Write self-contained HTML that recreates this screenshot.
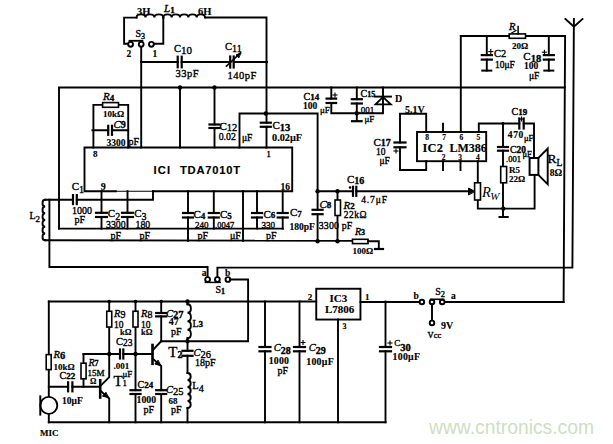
<!DOCTYPE html>
<html><head><meta charset="utf-8"><style>
html,body{margin:0;padding:0;background:#fff;width:613px;height:444px;overflow:hidden}
svg{display:block}

</style></head><body>
<svg width="613" height="444" viewBox="0 0 613 444" stroke="#000" fill="none" stroke-linecap="square"><path d="M129.0,43.8 L124.1,43.8 L124.1,17.6 L136.5,17.6" stroke-width="1.9"/>
<path d="M136.5,17.6 C136.5,13.344000000000001 145.43333333333334,13.344000000000001 145.43333333333334,17.6 C145.43333333333334,13.344000000000001 154.36666666666667,13.344000000000001 154.36666666666667,17.6 C154.36666666666667,13.344000000000001 163.3,13.344000000000001 163.3,17.6" stroke-width="1.9" fill="none"/>
<path d="M163.3,17.6 C163.3,13.344000000000001 171.64000000000001,13.344000000000001 171.64000000000001,17.6 C171.64000000000001,13.344000000000001 179.98000000000002,13.344000000000001 179.98000000000002,17.6 C179.98000000000002,13.344000000000001 188.32000000000002,13.344000000000001 188.32000000000002,17.6 C188.32,13.344000000000001 196.66,13.344000000000001 196.66,17.6 C196.66,13.344000000000001 205.0,13.344000000000001 205.0,17.6" stroke-width="1.9" fill="none"/>
<path d="M206.0,17.5 L266.5,17.5 L266.5,147.5" stroke-width="1.9"/>
<path d="M163.3,17.6 L163.3,43.8 L153.0,43.8" stroke-width="1.9"/>
<path d="M141.2,46.0 L141.2,147.5" stroke-width="1.9"/>
<circle cx="130.6" cy="44.3" r="2.4" fill="#fff" stroke-width="1.9"/>
<circle cx="141.2" cy="44.3" r="2.4" fill="#fff" stroke-width="1.9"/>
<circle cx="151.4" cy="44.3" r="2.4" fill="#fff" stroke-width="1.9"/>
<path d="M129.5,40.8 L142.4,40.8" stroke-width="1.8"/>
<path d="M141.2,62.0 L266.5,62.0" stroke-width="1.9"/>
<rect x="178.7" y="55.7" width="2.0" height="12.6" fill="#fff" stroke="none"/>
<path d="M177.7,56.7 L177.7,67.3" stroke-width="2.2"/>
<path d="M181.7,56.7 L181.7,67.3" stroke-width="2.2"/>
<rect x="231.2" y="55.5" width="1.5" height="13" fill="#fff" stroke="none"/>
<path d="M230.2,56.5 L230.2,67.5" stroke-width="2.2"/>
<path d="M233.7,56.5 L233.7,67.5" stroke-width="2.2"/>
<path d="M226.5,66.0 L240.5,53.0" stroke-width="1.6"/>
<path d="M240.5,53 L236,55 L238.5,57.5 Z" stroke-width="1" fill="#000"/>
<circle cx="266.5" cy="62" r="1.6" fill="#000" stroke="none"/>
<path d="M59.0,228.6 L59.0,87.5 L564.8,87.5" stroke-width="1.9"/>
<path d="M180.0,87.5 L180.0,147.5" stroke-width="1.9"/>
<circle cx="180" cy="87.5" r="2.2" fill="#000" stroke="none"/>
<path d="M214.5,87.5 L214.5,147.5" stroke-width="1.9"/>
<circle cx="214.5" cy="87.5" r="2.2" fill="#000" stroke="none"/>
<rect x="208.5" y="125.5" width="12" height="1.5" fill="#fff" stroke="none"/>
<path d="M209.5,124.5 L219.5,124.5" stroke-width="2.2"/>
<path d="M209.5,128.0 L219.5,128.0" stroke-width="2.2"/>
<path d="M239.5,147.5 L239.5,113.5 L317.6,113.5 L317.6,241.2" stroke-width="1.9"/>
<circle cx="265.8" cy="113.5" r="2.2" fill="#000" stroke="none"/>
<rect x="259.8" y="123.7" width="12" height="2.0999999999999943" fill="#fff" stroke="none"/>
<path d="M260.8,122.7 L270.8,122.7" stroke-width="2.2"/>
<path d="M260.8,126.8 L270.8,126.8" stroke-width="2.2"/>
<path d="M115.8,191.2 L84.5,191.2 L84.5,147.5 L292.2,147.5 L292.2,191.2 L153.0,191.2" stroke-width="1.9"/>
<path d="M115.8,191.2 L153.0,191.2" stroke-width="1.1"/>
<path d="M93.4,147.5 L93.4,104.9 L128.2,104.9 L128.2,147.5" stroke-width="1.9"/>
<rect x="102.6" y="102.6" width="15.9" height="4.7" fill="#fff" stroke-width="1.6"/>
<path d="M92.4,130.3 L128.2,130.3" stroke-width="1.9"/>
<rect x="109.2" y="124.80000000000001" width="1.7999999999999972" height="11" fill="#fff" stroke="none"/>
<path d="M108.2,125.8 L108.2,134.8" stroke-width="2.2"/>
<path d="M112.0,125.8 L112.0,134.8" stroke-width="2.2"/>
<path d="M45.2,199.8 L153.0,199.8 L153.0,191.2" stroke-width="1.9"/>
<rect x="74" y="194.1" width="1.7999999999999972" height="11" fill="#fff" stroke="none"/>
<path d="M73.0,195.1 L73.0,204.1" stroke-width="2.2"/>
<path d="M76.8,195.1 L76.8,204.1" stroke-width="2.2"/>
<path d="M45.2,199.8 C41.609,199.8 41.609,206.55 45.2,206.55 C41.609,206.55 41.609,213.3 45.2,213.3 C41.609,213.3 41.609,220.05 45.2,220.05 C41.609,220.05 41.609,226.8 45.2,226.8 C41.609,226.8 41.609,233.55 45.2,233.55 C41.609,233.55 41.609,240.3 45.2,240.3" stroke-width="1.9" fill="none"/>
<path d="M45.2,240.3 L352.5,240.8" stroke-width="1.9"/>
<path d="M49.4,199.6 L49.4,267.0 L207.6,267.0 L207.6,277.2" stroke-width="1.9"/>
<path d="M59.0,228.6 L283.0,228.6" stroke-width="1.9"/>
<path d="M101.5,191.2 L101.5,228.6" stroke-width="1.9"/>
<path d="M127.5,191.2 L127.5,228.6" stroke-width="1.9"/>
<path d="M213.8,191.2 L213.8,228.6" stroke-width="1.9"/>
<path d="M257.0,191.2 L257.0,228.6" stroke-width="1.9"/>
<path d="M282.7,191.2 L282.7,228.6" stroke-width="1.9"/>
<rect x="95.0" y="213.8" width="13" height="2.1999999999999886" fill="#fff" stroke="none"/>
<path d="M96.0,212.8 L107.0,212.8" stroke-width="2.2"/>
<path d="M96.0,217.0 L107.0,217.0" stroke-width="2.2"/>
<rect x="121.0" y="213.8" width="13" height="2.1999999999999886" fill="#fff" stroke="none"/>
<path d="M122.0,212.8 L133.0,212.8" stroke-width="2.2"/>
<path d="M122.0,217.0 L133.0,217.0" stroke-width="2.2"/>
<path d="M188.0,191.2 L188.0,240.8" stroke-width="1.9"/>
<path d="M243.0,191.2 L243.0,240.8" stroke-width="1.9"/>
<rect x="182.0" y="214" width="12" height="2.5" fill="#fff" stroke="none"/>
<path d="M183.0,213.0 L193.0,213.0" stroke-width="2.2"/>
<path d="M183.0,217.5 L193.0,217.5" stroke-width="2.2"/>
<rect x="207.75" y="214" width="12" height="2.5" fill="#fff" stroke="none"/>
<path d="M208.8,213.0 L218.8,213.0" stroke-width="2.2"/>
<path d="M208.8,217.5 L218.8,217.5" stroke-width="2.2"/>
<rect x="251.0" y="214" width="12" height="2.5" fill="#fff" stroke="none"/>
<path d="M252.0,213.0 L262.0,213.0" stroke-width="2.2"/>
<path d="M252.0,217.5 L262.0,217.5" stroke-width="2.2"/>
<rect x="276.7" y="214" width="12" height="2.5" fill="#fff" stroke="none"/>
<path d="M277.7,213.0 L287.7,213.0" stroke-width="2.2"/>
<path d="M277.7,217.5 L287.7,217.5" stroke-width="2.2"/>
<rect x="311.6" y="210.8" width="12" height="2.3999999999999773" fill="#fff" stroke="none"/>
<path d="M312.6,209.8 L322.6,209.8" stroke-width="2.2"/>
<path d="M312.6,214.2 L322.6,214.2" stroke-width="2.2"/>
<circle cx="317.6" cy="191.2" r="2.2" fill="#000" stroke="none"/>
<circle cx="317.6" cy="241.2" r="2.2" fill="#000" stroke="none"/>
<path d="M337.5,191.2 L337.5,241.2" stroke-width="1.9"/>
<circle cx="337.5" cy="191.2" r="2.2" fill="#000" stroke="none"/>
<circle cx="337.5" cy="241.2" r="2.2" fill="#000" stroke="none"/>
<rect x="335" y="200" width="5.5" height="15.5" fill="#fff" stroke-width="1.6"/>
<rect x="352.5" y="239.3" width="15.5" height="4.3" fill="#fff" stroke-width="1.6"/>
<path d="M368.0,241.2 L378.8,241.2 L378.8,249.0" stroke-width="1.9"/>
<path d="M375.0,249.0 L383.0,249.0" stroke-width="2.2"/>
<path d="M317.6,191.2 L472.0,191.2" stroke-width="1.9"/>
<rect x="354" y="185.75" width="1.3000000000000114" height="11" fill="#fff" stroke="none"/>
<path d="M353.0,186.8 L353.0,195.8" stroke-width="2.2"/>
<path d="M356.3,186.8 L356.3,195.8" stroke-width="2.2"/>
<circle cx="350" cy="187.5" r="1.3" fill="#000" stroke="none"/>
<path d="M474.6,191.25 L468.5,188 L468.5,194.5 Z" stroke-width="1" fill="#000"/>
<path d="M331.3,87.5 L331.3,113.3 L383.0,113.3 L383.0,87.5" stroke-width="1.9"/>
<rect x="325.55" y="99.6" width="11.5" height="2.4000000000000057" fill="#fff" stroke="none"/>
<path d="M326.6,98.6 L336.1,98.6" stroke-width="2.2"/>
<path d="M326.6,103.0 L336.1,103.0" stroke-width="2.2"/>
<path d="M356.8,87.5 L356.8,121.0" stroke-width="1.9"/>
<rect x="350.75" y="100.2" width="12" height="2.299999999999997" fill="#fff" stroke="none"/>
<path d="M351.8,99.2 L361.8,99.2" stroke-width="2.2"/>
<path d="M351.8,103.5 L361.8,103.5" stroke-width="2.2"/>
<circle cx="356.75" cy="113.3" r="2.2" fill="#000" stroke="none"/>
<path d="M352.0,121.2 L361.6,121.2" stroke-width="2.2"/>
<path d="M375.5,104.3 L390.8,104.3 L383,97 Z" stroke-width="1.8" fill="none"/>
<path d="M375.0,96.6 L391.0,96.6" stroke-width="1.9"/>
<path d="M426.2,132.0 L426.2,113.8 L400.0,113.8 L400.0,170.0 L426.2,170.0 L426.2,161.2" stroke-width="1.9"/>
<rect x="393.5" y="143.5" width="13" height="2.8000000000000114" fill="#fff" stroke="none"/>
<path d="M394.5,142.5 L405.5,142.5" stroke-width="2.2"/>
<path d="M394.5,147.3 L405.5,147.3" stroke-width="2.2"/>
<rect x="417" y="132" width="69.2" height="29.2" fill="none" stroke-width="1.9"/>
<path d="M443.0,123.8 L443.0,132.0" stroke-width="1.9"/>
<path d="M460.8,36.0 L460.8,132.0" stroke-width="1.9"/>
<path d="M478.8,132.0 L478.8,123.5 L534.0,123.5 L534.0,158.0" stroke-width="1.9"/>
<rect x="520.3" y="117.5" width="2.400000000000091" height="12" fill="#fff" stroke="none"/>
<path d="M519.3,118.5 L519.3,128.5" stroke-width="2.2"/>
<path d="M523.7,118.5 L523.7,128.5" stroke-width="2.2"/>
<circle cx="503" cy="123.5" r="1.5" fill="#000" stroke="none"/>
<path d="M503.0,123.5 L503.0,217.0" stroke-width="1.9"/>
<rect x="497.0" y="148" width="12" height="1.6999999999999886" fill="#fff" stroke="none"/>
<path d="M498.0,147.0 L508.0,147.0" stroke-width="2.2"/>
<path d="M498.0,150.7 L508.0,150.7" stroke-width="2.2"/>
<rect x="500.7" y="166.5" width="5.9" height="16.3" fill="#fff" stroke-width="1.6"/>
<path d="M443.0,161.2 L443.0,170.0" stroke-width="1.9"/>
<path d="M460.5,161.2 L460.5,170.0" stroke-width="1.9"/>
<path d="M477.8,161.2 L477.8,208.6 L534.6,208.6 L534.6,175.0" stroke-width="1.9"/>
<rect x="474.6" y="182.8" width="5.9" height="17.2" fill="#fff" stroke-width="1.6"/>
<circle cx="503.3" cy="208.6" r="2.2" fill="#000" stroke="none"/>
<path d="M499.5,217.0 L507.7,217.0" stroke-width="2"/>
<rect x="529.6" y="158" width="8.8" height="16.9" fill="#fff" stroke-width="2"/>
<path d="M538.4,158 L547.7,148.6 L547.7,184.3 L538.4,174.9" stroke-width="1.9" fill="none"/>
<path d="M460.8,36.0 L565.1,36.0 L563.6,302.0" stroke-width="1.9"/>
<rect x="509.2" y="33.9" width="16.3" height="4.4" fill="#fff" stroke-width="1.6"/>
<path d="M518.1,26.5 L518.1,33.9" stroke-width="1.5"/>
<path d="M511.6,33.0 L516.0,30.5" stroke-width="1.2"/>
<path d="M486.8,36.0 L486.8,70.6" stroke-width="1.9"/>
<rect x="480.8" y="56.1" width="12" height="2.5" fill="#fff" stroke="none"/>
<path d="M481.8,55.1 L491.8,55.1" stroke-width="2.2"/>
<path d="M481.8,59.6 L491.8,59.6" stroke-width="2.2"/>
<path d="M482.3,70.6 L491.3,70.6" stroke-width="2"/>
<path d="M548.8,36.0 L548.8,70.6" stroke-width="1.9"/>
<rect x="542.8" y="56.1" width="12" height="2.5" fill="#fff" stroke="none"/>
<path d="M543.8,55.1 L553.8,55.1" stroke-width="2.2"/>
<path d="M543.8,59.6 L553.8,59.6" stroke-width="2.2"/>
<path d="M544.3,70.6 L553.3,70.6" stroke-width="2"/>
<path d="M573.9,19.0 L572.4,267.6 L217.4,267.6 L217.4,277.2" stroke-width="1.9"/>
<path d="M565.4,19.0 L573.9,26.7 L582.5,19.0" stroke-width="1.9"/>
<circle cx="207.6" cy="279.5" r="2.4" fill="#fff" stroke-width="1.9"/>
<circle cx="217.4" cy="279.5" r="2.4" fill="#fff" stroke-width="1.9"/>
<circle cx="227.9" cy="279.5" r="2.4" fill="#fff" stroke-width="1.9"/>
<path d="M205.4,282.4 L220.3,282.4" stroke-width="1.5"/>
<path d="M230.1,279.5 L248.1,279.5 L248.1,341.2 L161.2,341.2" stroke-width="1.9"/>
<path d="M48.8,301.5 L316.2,301.5" stroke-width="1.9"/>
<rect x="316.25" y="288.75" width="44.2" height="30.8" fill="none" stroke-width="1.9"/>
<path d="M360.5,302.0 L419.0,302.0" stroke-width="1.9"/>
<path d="M444.8,302.0 L563.6,302.0" stroke-width="1.9"/>
<circle cx="421.9" cy="302" r="2.3" fill="#fff" stroke-width="1.9"/>
<circle cx="432" cy="302" r="2.3" fill="#fff" stroke-width="1.9"/>
<circle cx="442.2" cy="302" r="2.3" fill="#fff" stroke-width="1.9"/>
<path d="M430.7,299.3 L443.5,299.3" stroke-width="1.6"/>
<path d="M432.0,304.4 L432.0,320.6" stroke-width="1.9"/>
<circle cx="432" cy="322.9" r="2.3" fill="#fff" stroke-width="1.9"/>
<path d="M265.0,301.5 L265.0,422.3" stroke-width="1.9"/>
<rect x="258.5" y="348" width="13" height="2.3000000000000114" fill="#fff" stroke="none"/>
<path d="M259.5,347.0 L270.5,347.0" stroke-width="2.2"/>
<path d="M259.5,351.3 L270.5,351.3" stroke-width="2.2"/>
<path d="M299.5,301.5 L299.5,422.3" stroke-width="1.9"/>
<rect x="293.0" y="348" width="13" height="2.3000000000000114" fill="#fff" stroke="none"/>
<path d="M294.0,347.0 L305.0,347.0" stroke-width="2.2"/>
<path d="M294.0,351.3 L305.0,351.3" stroke-width="2.2"/>
<path d="M385.5,301.5 L385.5,422.3" stroke-width="1.9"/>
<rect x="379.0" y="348" width="13" height="2.3000000000000114" fill="#fff" stroke="none"/>
<path d="M380.0,347.0 L391.0,347.0" stroke-width="2.2"/>
<path d="M380.0,351.3 L391.0,351.3" stroke-width="2.2"/>
<path d="M338.0,319.5 L338.0,422.3" stroke-width="1.9"/>
<path d="M48.8,422.3 L385.5,422.3" stroke-width="1.9"/>
<path d="M301.0,342.5 L305.0,342.5" stroke-width="1.1"/>
<path d="M303.0,340.5 L303.0,344.5" stroke-width="1.1"/>
<path d="M388.0,343.0 L392.0,343.0" stroke-width="1.1"/>
<path d="M390.0,341.0 L390.0,345.0" stroke-width="1.1"/>
<path d="M333.0,95.0 L337.0,95.0" stroke-width="1.1"/>
<path d="M335.0,93.0 L335.0,97.0" stroke-width="1.1"/>
<path d="M394.0,151.0 L398.0,151.0" stroke-width="1.1"/>
<path d="M396.0,149.0 L396.0,153.0" stroke-width="1.1"/>
<path d="M488.8,51.6 L492.8,51.6" stroke-width="1.1"/>
<path d="M490.8,49.6 L490.8,53.6" stroke-width="1.1"/>
<path d="M542.4,52.2 L546.4,52.2" stroke-width="1.1"/>
<path d="M544.4,50.2 L544.4,54.2" stroke-width="1.1"/>
<path d="M519.5,119.0 L523.5,119.0" stroke-width="1.1"/>
<path d="M521.5,117.0 L521.5,121.0" stroke-width="1.1"/>
<path d="M48.8,301.5 L48.8,396.8" stroke-width="1.9"/>
<rect x="46.2" y="354.6" width="5.0" height="15.0" fill="#fff" stroke-width="1.6"/>
<path d="M48.8,386.8 L99.6,386.8" stroke-width="1.9"/>
<rect x="69.1" y="381.3" width="2.3000000000000114" height="11" fill="#fff" stroke="none"/>
<path d="M68.1,382.3 L68.1,391.3" stroke-width="2.2"/>
<path d="M72.4,382.3 L72.4,391.3" stroke-width="2.2"/>
<circle cx="48.8" cy="405.4" r="8.5" fill="#fff" stroke-width="1.9"/>
<path d="M40.3,396.4 L40.3,414.6" stroke-width="2"/>
<path d="M48.8,414.0 L48.8,422.3" stroke-width="1.9"/>
<path d="M109.2,301.5 L109.2,354.0" stroke-width="1.9"/>
<rect x="106.75" y="311.25" width="5.0" height="15.8" fill="#fff" stroke-width="1.6"/>
<path d="M135.5,301.5 L135.5,422.3" stroke-width="1.9"/>
<rect x="133" y="311.25" width="5.0" height="15.8" fill="#fff" stroke-width="1.6"/>
<rect x="129.5" y="391.2" width="12" height="1.8000000000000114" fill="#fff" stroke="none"/>
<path d="M130.5,390.2 L140.5,390.2" stroke-width="2.2"/>
<path d="M130.5,394.0 L140.5,394.0" stroke-width="2.2"/>
<path d="M83.5,354.0 L152.5,354.0" stroke-width="1.9"/>
<rect x="121" y="348.5" width="1.2999999999999972" height="11" fill="#fff" stroke="none"/>
<path d="M120.0,349.5 L120.0,358.5" stroke-width="2.2"/>
<path d="M123.3,349.5 L123.3,358.5" stroke-width="2.2"/>
<circle cx="109.2" cy="354" r="2.2" fill="#000" stroke="none"/>
<circle cx="135.5" cy="354" r="2.2" fill="#000" stroke="none"/>
<circle cx="109.2" cy="301.5" r="1.8" fill="#000" stroke="none"/>
<circle cx="135.5" cy="301.5" r="1.8" fill="#000" stroke="none"/>
<circle cx="161.25" cy="301.5" r="1.8" fill="#000" stroke="none"/>
<path d="M83.5,354.0 L83.5,386.8" stroke-width="1.9"/>
<rect x="81" y="363.2" width="5.1" height="15.6" fill="#fff" stroke-width="1.6"/>
<path d="M100.2,380.3 L100.2,397.5" stroke-width="2.6"/>
<path d="M100.7,385.7 L109.2,377.1 L109.2,354.0" stroke-width="1.9"/>
<path d="M100.7,391.0 L109.2,398.5 L109.2,422.3" stroke-width="1.9"/>
<path d="M108.2,397.5 L102.5,396.2 L105.6,392.6 Z" stroke-width="1" fill="#000"/>
<path d="M161.2,301.5 L161.2,341.2" stroke-width="1.9"/>
<rect x="155.25" y="314" width="12" height="1.3999999999999773" fill="#fff" stroke="none"/>
<path d="M156.2,313.0 L166.2,313.0" stroke-width="2.2"/>
<path d="M156.2,316.4 L166.2,316.4" stroke-width="2.2"/>
<path d="M152.5,345.0 L152.5,363.8" stroke-width="2.6"/>
<path d="M153.0,350.0 L161.2,341.2" stroke-width="1.9"/>
<path d="M153.0,359.0 L161.2,366.0 L161.2,422.3" stroke-width="1.9"/>
<path d="M160.3,365.5 L154.8,364 L157.8,360.5 Z" stroke-width="1" fill="#000"/>
<rect x="155.25" y="391.2" width="12" height="1.8000000000000114" fill="#fff" stroke="none"/>
<path d="M156.2,390.2 L166.2,390.2" stroke-width="2.2"/>
<path d="M156.2,394.0 L166.2,394.0" stroke-width="2.2"/>
<circle cx="187.5" cy="301.5" r="2.2" fill="#000" stroke="none"/>
<circle cx="187.5" cy="341.25" r="2.2" fill="#000" stroke="none"/>
<path d="M187.5,304.3 C192.022,304.3 192.022,312.775 187.5,312.775 C192.022,312.775 192.022,321.25 187.5,321.25 C192.022,321.25 192.022,329.725 187.5,329.725 C192.022,329.725 192.022,338.20000000000005 187.5,338.20000000000005" stroke-width="1.9" fill="none"/>
<path d="M187.5,301.5 L187.5,304.3" stroke-width="1.9"/>
<path d="M187.5,338.2 L187.5,373.0" stroke-width="1.9"/>
<rect x="181.5" y="351.75" width="12" height="3.0" fill="#fff" stroke="none"/>
<path d="M182.5,350.8 L192.5,350.8" stroke-width="2.2"/>
<path d="M182.5,355.8 L192.5,355.8" stroke-width="2.2"/>
<path d="M187.5,373 C191.756,373.0 191.756,380.0 187.5,380.0 C191.756,380.0 191.756,387.0 187.5,387.0 C191.756,387.0 191.756,394.0 187.5,394.0 C191.756,394.0 191.756,401.0 187.5,401.0 C191.756,401.0 191.756,408.0 187.5,408.0" stroke-width="1.9" fill="none"/>
<path d="M187.5,408.0 L187.5,422.3" stroke-width="1.9"/>
<text x="137" y="14.7" font-size="10.5" font-weight="bold" font-style="normal" font-family="Liberation Serif" text-anchor="start" fill="#000" stroke="#000" stroke-width="0.15" >3H</text>
<text x="164" y="12" font-size="11" font-weight="normal" font-style="italic" font-family="Liberation Serif" fill="#000" stroke="#000" stroke-width="0.35">L<tspan font-size="9" font-weight="bold" font-style="normal" dy="1">1</tspan></text>
<text x="198" y="14.7" font-size="10.5" font-weight="bold" font-style="normal" font-family="Liberation Serif" text-anchor="start" fill="#000" stroke="#000" stroke-width="0.15" >6H</text>
<text x="135.5" y="37.4" font-size="10" font-weight="normal" font-style="normal" font-family="Liberation Serif" fill="#000" stroke="#000" stroke-width="0.35">S<tspan font-size="8" font-weight="normal" font-style="normal" dy="1.2">3</tspan></text>
<text x="126.5" y="57" font-size="9.5" font-weight="bold" font-style="normal" font-family="Liberation Serif" text-anchor="start" fill="#000" stroke="#000" stroke-width="0.15" >2</text>
<text x="152.5" y="57" font-size="9.5" font-weight="bold" font-style="normal" font-family="Liberation Serif" text-anchor="start" fill="#000" stroke="#000" stroke-width="0.15" >1</text>
<text x="174" y="51.6" font-size="10.5" font-weight="normal" font-style="normal" font-family="Liberation Serif" fill="#000" stroke="#000" stroke-width="0.35">C<tspan font-size="11" font-weight="normal" font-style="normal" dy="2.1">10</tspan></text>
<text x="225" y="50.1" font-size="10.5" font-weight="normal" font-style="normal" font-family="Liberation Serif" fill="#000" stroke="#000" stroke-width="0.35">C<tspan font-size="10" font-weight="normal" font-style="normal" dy="2.1">11</tspan></text>
<text x="175.6" y="77.3" font-size="10.5" font-weight="normal" font-style="normal" font-family="Liberation Serif" text-anchor="start" fill="#000" stroke="#000" stroke-width="0.35" letter-spacing="0.5">33pF</text>
<text x="227.5" y="79" font-size="10.5" font-weight="normal" font-style="normal" font-family="Liberation Serif" text-anchor="start" fill="#000" stroke="#000" stroke-width="0.35" letter-spacing="0.5">140pF</text>
<text x="103" y="99.5" font-size="11" font-weight="normal" font-style="italic" font-family="Liberation Serif" fill="#000" stroke="#000" stroke-width="0.35">R<tspan font-size="9" font-weight="bold" font-style="normal" dy="1.5">4</tspan></text>
<text x="103" y="117" font-size="9" font-weight="bold" font-style="normal" font-family="Liberation Serif" text-anchor="start" fill="#000" stroke="#000" stroke-width="0.15" >10kΩ</text>
<text x="113.5" y="127.5" font-size="11" font-weight="normal" font-style="italic" font-family="Liberation Serif" fill="#000" stroke="#000" stroke-width="0.35">C<tspan font-size="10" font-weight="bold" font-style="normal" dy="0.5">9</tspan></text>
<text x="106.5" y="146.3" font-size="9.5" font-weight="bold" font-style="normal" font-family="Liberation Serif" text-anchor="start" fill="#000" stroke="#000" stroke-width="0.15" >3300</text>
<text x="128.5" y="144.7" font-size="10" font-weight="normal" font-style="normal" font-family="Liberation Serif" text-anchor="start" fill="#000" stroke="#000" stroke-width="0.35" >pF</text>
<text x="219.5" y="130" font-size="11" font-weight="normal" font-style="normal" font-family="Liberation Serif" fill="#000" stroke="#000" stroke-width="0.35">C<tspan font-size="10.5" font-weight="normal" font-style="normal" dy="1.3">12</tspan></text>
<text x="218.7" y="140" font-size="9.8" font-weight="normal" font-style="normal" font-family="Liberation Serif" text-anchor="start" fill="#000" stroke="#000" stroke-width="0.35" >0.02</text>
<text x="242" y="141" font-size="9.5" font-weight="normal" font-style="normal" font-family="Liberation Serif" text-anchor="start" fill="#000" stroke="#000" stroke-width="0.35" >μF</text>
<text x="272.5" y="128.8" font-size="11" font-weight="normal" font-style="normal" font-family="Liberation Serif" fill="#000" stroke="#000" stroke-width="0.35">C<tspan font-size="10.5" font-weight="bold" font-style="normal" dy="2.2">13</tspan></text>
<text x="272" y="140.5" font-size="10.3" font-weight="bold" font-style="normal" font-family="Liberation Serif" text-anchor="start" fill="#000" stroke="#000" stroke-width="0.15" >0.02μF</text>
<text x="93" y="157" font-size="9" font-weight="bold" font-style="normal" font-family="Liberation Serif" text-anchor="start" fill="#000" stroke="#000" stroke-width="0.15" >8</text>
<text x="266.5" y="156.5" font-size="8.5" font-weight="normal" font-style="normal" font-family="Liberation Serif" text-anchor="start" fill="#000" stroke="#000" stroke-width="0.35" >1</text>
<text x="153.5" y="173.8" font-size="11.2" font-weight="bold" font-style="normal" font-family="Liberation Sans" text-anchor="start" fill="#000" stroke="#000" stroke-width="0.15" letter-spacing="1.2">ICI</text>
<text x="180" y="173.8" font-size="11.2" font-weight="bold" font-style="normal" font-family="Liberation Sans" text-anchor="start" fill="#000" stroke="#000" stroke-width="0.15" letter-spacing="0.75">TDA7010T</text>
<text x="100.8" y="189.8" font-size="10" font-weight="bold" font-style="normal" font-family="Liberation Serif" text-anchor="start" fill="#000" stroke="#000" stroke-width="0.15" >9</text>
<text x="280.5" y="190" font-size="9.5" font-weight="bold" font-style="normal" font-family="Liberation Serif" text-anchor="start" fill="#000" stroke="#000" stroke-width="0.15" >16</text>
<text x="71.7" y="189.6" font-size="11" font-weight="normal" font-style="normal" font-family="Liberation Serif" fill="#000" stroke="#000" stroke-width="0.35">C<tspan font-size="10" font-weight="normal" font-style="normal" dy="2.9">1</tspan></text>
<text x="72" y="214" font-size="10" font-weight="normal" font-style="normal" font-family="Liberation Serif" text-anchor="start" fill="#000" stroke="#000" stroke-width="0.35" >1000</text>
<text x="74.5" y="223" font-size="10" font-weight="normal" font-style="normal" font-family="Liberation Serif" text-anchor="start" fill="#000" stroke="#000" stroke-width="0.35" >pF</text>
<text x="29.5" y="219.3" font-size="10" font-weight="normal" font-style="normal" font-family="Liberation Serif" fill="#000" stroke="#000" stroke-width="0.35">L<tspan font-size="9" font-weight="normal" font-style="normal" dy="2.3">2</tspan></text>
<text x="107.8" y="217" font-size="11" font-weight="normal" font-style="normal" font-family="Liberation Serif" fill="#000" stroke="#000" stroke-width="0.35">C<tspan font-size="10" font-weight="normal" font-style="normal" dy="2.6">2</tspan></text>
<text x="106" y="228" font-size="9.8" font-weight="normal" font-style="normal" font-family="Liberation Serif" text-anchor="start" fill="#000" stroke="#000" stroke-width="0.35" >3300</text>
<text x="134.2" y="217" font-size="11" font-weight="normal" font-style="normal" font-family="Liberation Serif" fill="#000" stroke="#000" stroke-width="0.35">C<tspan font-size="10" font-weight="normal" font-style="normal" dy="2.6">3</tspan></text>
<text x="135.5" y="228" font-size="9.8" font-weight="normal" font-style="normal" font-family="Liberation Serif" text-anchor="start" fill="#000" stroke="#000" stroke-width="0.35" >180</text>
<text x="110.5" y="239" font-size="10" font-weight="normal" font-style="normal" font-family="Liberation Serif" text-anchor="start" fill="#000" stroke="#000" stroke-width="0.35" >pF</text>
<text x="139.5" y="239" font-size="10" font-weight="normal" font-style="normal" font-family="Liberation Serif" text-anchor="start" fill="#000" stroke="#000" stroke-width="0.35" >pF</text>
<text x="193.5" y="218" font-size="11" font-weight="normal" font-style="normal" font-family="Liberation Serif" fill="#000" stroke="#000" stroke-width="0.35">C<tspan font-size="9" font-weight="bold" font-style="normal" dy="1">4</tspan></text>
<text x="195" y="227.5" font-size="9" font-weight="normal" font-style="normal" font-family="Liberation Serif" text-anchor="start" fill="#000" stroke="#000" stroke-width="0.35" >240</text>
<text x="220" y="218" font-size="11" font-weight="normal" font-style="normal" font-family="Liberation Serif" fill="#000" stroke="#000" stroke-width="0.35">C<tspan font-size="9" font-weight="bold" font-style="normal" dy="1">5</tspan></text>
<text x="215" y="227.5" font-size="8.5" font-weight="normal" font-style="normal" font-family="Liberation Serif" text-anchor="start" fill="#000" stroke="#000" stroke-width="0.35" >.0047</text>
<text x="197.5" y="238.7" font-size="10" font-weight="normal" font-style="normal" font-family="Liberation Serif" text-anchor="start" fill="#000" stroke="#000" stroke-width="0.35" >pF</text>
<text x="230" y="238.7" font-size="10" font-weight="normal" font-style="normal" font-family="Liberation Serif" text-anchor="start" fill="#000" stroke="#000" stroke-width="0.35" >μF</text>
<text x="263.5" y="218" font-size="11" font-weight="normal" font-style="normal" font-family="Liberation Serif" fill="#000" stroke="#000" stroke-width="0.35">C<tspan font-size="9" font-weight="bold" font-style="normal" dy="0">6</tspan></text>
<text x="261.5" y="227.5" font-size="9" font-weight="normal" font-style="normal" font-family="Liberation Serif" text-anchor="start" fill="#000" stroke="#000" stroke-width="0.35" >330</text>
<text x="266" y="238.7" font-size="10" font-weight="normal" font-style="normal" font-family="Liberation Serif" text-anchor="start" fill="#000" stroke="#000" stroke-width="0.35" >pF</text>
<text x="290" y="216" font-size="11" font-weight="normal" font-style="normal" font-family="Liberation Serif" fill="#000" stroke="#000" stroke-width="0.35">C<tspan font-size="9" font-weight="bold" font-style="normal" dy="1">7</tspan></text>
<text x="289.5" y="229.5" font-size="9.5" font-weight="bold" font-style="normal" font-family="Liberation Serif" text-anchor="start" fill="#000" stroke="#000" stroke-width="0.15" >180pF</text>
<text x="319.5" y="207.5" font-size="11" font-weight="normal" font-style="italic" font-family="Liberation Serif" fill="#000" stroke="#000" stroke-width="0.35">C<tspan font-size="9" font-weight="bold" font-style="normal" dy="0">8</tspan></text>
<text x="318.7" y="228.7" font-size="9.8" font-weight="normal" font-style="normal" font-family="Liberation Serif" text-anchor="start" fill="#000" stroke="#000" stroke-width="0.35" letter-spacing="0.2">3300 pF</text>
<text x="343.5" y="208.7" font-size="11" font-weight="normal" font-style="italic" font-family="Liberation Serif" fill="#000" stroke="#000" stroke-width="0.35">R<tspan font-size="9" font-weight="bold" font-style="normal" dy="0.5">2</tspan></text>
<text x="343.7" y="218" font-size="9.5" font-weight="normal" font-style="normal" font-family="Liberation Serif" text-anchor="start" fill="#000" stroke="#000" stroke-width="0.35" letter-spacing="0.5">22kΩ</text>
<text x="347" y="183" font-size="11" font-weight="normal" font-style="normal" font-family="Liberation Serif" fill="#000" stroke="#000" stroke-width="0.35">C<tspan font-size="10" font-weight="bold" font-style="normal" dy="0.8">16</tspan></text>
<text x="361.2" y="202.5" font-size="9.5" font-weight="normal" font-style="normal" font-family="Liberation Serif" text-anchor="start" fill="#000" stroke="#000" stroke-width="0.35" letter-spacing="0.9">4.7μF</text>
<text x="355" y="235" font-size="10" font-weight="normal" font-style="italic" font-family="Liberation Serif" fill="#000" stroke="#000" stroke-width="0.35">R<tspan font-size="8" font-weight="bold" font-style="normal" dy="0">3</tspan></text>
<text x="352.5" y="253.7" font-size="9" font-weight="bold" font-style="normal" font-family="Liberation Serif" text-anchor="start" fill="#000" stroke="#000" stroke-width="0.15" >100Ω</text>
<text x="303.5" y="100" font-size="10" font-weight="normal" font-style="normal" font-family="Liberation Serif" fill="#000" stroke="#000" stroke-width="0.35">C<tspan font-size="9" font-weight="bold" font-style="normal" dy="0">14</tspan></text>
<text x="303" y="108.7" font-size="9.5" font-weight="bold" font-style="normal" font-family="Liberation Serif" text-anchor="start" fill="#000" stroke="#000" stroke-width="0.15" >100</text>
<text x="320" y="113" font-size="9" font-weight="normal" font-style="normal" font-family="Liberation Serif" text-anchor="start" fill="#000" stroke="#000" stroke-width="0.35" >μF</text>
<text x="360.5" y="96.6" font-size="10" font-weight="normal" font-style="normal" font-family="Liberation Serif" fill="#000" stroke="#000" stroke-width="0.35">C<tspan font-size="8" font-weight="bold" font-style="normal" dy="0">15</tspan></text>
<text x="358.5" y="113.3" font-size="9" font-weight="normal" font-style="normal" font-family="Liberation Serif" text-anchor="start" fill="#000" stroke="#000" stroke-width="0.35" >.001</text>
<text x="364.5" y="122" font-size="9" font-weight="normal" font-style="normal" font-family="Liberation Serif" text-anchor="start" fill="#000" stroke="#000" stroke-width="0.35" >μF</text>
<text x="395" y="101.5" font-size="10" font-weight="bold" font-style="normal" font-family="Liberation Serif" text-anchor="start" fill="#000" stroke="#000" stroke-width="0.15" >D</text>
<text x="405" y="112.5" font-size="10" font-weight="bold" font-style="normal" font-family="Liberation Serif" text-anchor="start" fill="#000" stroke="#000" stroke-width="0.15" >5.1V</text>
<text x="373.5" y="146.2" font-size="11" font-weight="normal" font-style="normal" font-family="Liberation Serif" fill="#000" stroke="#000" stroke-width="0.35">C<tspan font-size="10" font-weight="bold" font-style="normal" dy="0">17</tspan></text>
<text x="376" y="155" font-size="9.5" font-weight="normal" font-style="normal" font-family="Liberation Serif" text-anchor="start" fill="#000" stroke="#000" stroke-width="0.35" >10</text>
<text x="379.5" y="163.5" font-size="9.5" font-weight="normal" font-style="normal" font-family="Liberation Serif" text-anchor="start" fill="#000" stroke="#000" stroke-width="0.35" >μF</text>
<text x="425.2" y="139.7" font-size="7.5" font-weight="bold" font-style="normal" font-family="Liberation Serif" text-anchor="start" fill="#000" stroke="#000" stroke-width="0.15" >8</text>
<text x="442.3" y="139.7" font-size="7.5" font-weight="bold" font-style="normal" font-family="Liberation Serif" text-anchor="start" fill="#000" stroke="#000" stroke-width="0.15" >7</text>
<text x="459.5" y="139.7" font-size="7.5" font-weight="bold" font-style="normal" font-family="Liberation Serif" text-anchor="start" fill="#000" stroke="#000" stroke-width="0.15" >6</text>
<text x="476.6" y="139.7" font-size="7.5" font-weight="bold" font-style="normal" font-family="Liberation Serif" text-anchor="start" fill="#000" stroke="#000" stroke-width="0.15" >5</text>
<text x="422.5" y="151.8" font-size="12.5" font-weight="bold" font-style="normal" font-family="Liberation Serif" text-anchor="start" fill="#000" stroke="#000" stroke-width="0.15" letter-spacing="0.2">IC2</text>
<text x="449.5" y="151.8" font-size="12" font-weight="bold" font-style="normal" font-family="Liberation Serif" text-anchor="start" fill="#000" stroke="#000" stroke-width="0.15" >LM386</text>
<text x="441.8" y="159.9" font-size="7.5" font-weight="bold" font-style="normal" font-family="Liberation Serif" text-anchor="start" fill="#000" stroke="#000" stroke-width="0.15" >2</text>
<text x="458.3" y="159.9" font-size="7.5" font-weight="bold" font-style="normal" font-family="Liberation Serif" text-anchor="start" fill="#000" stroke="#000" stroke-width="0.15" >3</text>
<text x="476" y="159.9" font-size="7.5" font-weight="bold" font-style="normal" font-family="Liberation Serif" text-anchor="start" fill="#000" stroke="#000" stroke-width="0.15" >4</text>
<text x="511.5" y="115" font-size="10" font-weight="normal" font-style="normal" font-family="Liberation Serif" fill="#000" stroke="#000" stroke-width="0.35">C<tspan font-size="9" font-weight="bold" font-style="normal" dy="0">19</tspan></text>
<text x="507.8" y="137.8" font-size="9.5" font-weight="bold" font-style="normal" font-family="Liberation Serif" text-anchor="start" fill="#000" stroke="#000" stroke-width="0.15" letter-spacing="0.6">470</text>
<text x="524" y="141.2" font-size="8.5" font-weight="normal" font-style="normal" font-family="Liberation Serif" text-anchor="start" fill="#000" stroke="#000" stroke-width="0.35" >μF</text>
<text x="509.9" y="152.7" font-size="10" font-weight="normal" font-style="normal" font-family="Liberation Serif" fill="#000" stroke="#000" stroke-width="0.35">C<tspan font-size="9.5" font-weight="bold" font-style="normal" dy="0">20</tspan></text>
<text x="506" y="161.5" font-size="8.5" font-weight="normal" font-style="normal" font-family="Liberation Serif" text-anchor="start" fill="#000" stroke="#000" stroke-width="0.35" >.001</text>
<text x="522.5" y="157" font-size="8.5" font-weight="normal" font-style="normal" font-family="Liberation Serif" text-anchor="start" fill="#000" stroke="#000" stroke-width="0.35" >μF</text>
<text x="509" y="173" font-size="9" font-weight="bold" font-style="normal" font-family="Liberation Serif" text-anchor="start" fill="#000" stroke="#000" stroke-width="0.15" >R5</text>
<text x="509" y="181.5" font-size="9" font-weight="bold" font-style="normal" font-family="Liberation Serif" text-anchor="start" fill="#000" stroke="#000" stroke-width="0.15" >22Ω</text>
<text x="482" y="196.7" font-size="14.5" font-style="italic" font-family="Liberation Serif" fill="#000" stroke="#000" stroke-width="0">R<tspan font-size="11" dy="3.3" dx="-0.5">W</tspan></text>
<text x="547.5" y="163.2" font-size="13.5" font-weight="normal" font-style="normal" font-family="Liberation Serif" fill="#000" stroke="#000" stroke-width="0.35">R<tspan font-size="9.5" font-weight="normal" font-style="normal" dy="3.2">L</tspan></text>
<text x="549.8" y="175.5" font-size="9.5" font-weight="bold" font-style="normal" font-family="Liberation Serif" text-anchor="start" fill="#000" stroke="#000" stroke-width="0.15" >8Ω</text>
<text x="509" y="29.6" font-size="10.5" font-weight="normal" font-style="italic" font-family="Liberation Serif" text-anchor="start" fill="#000" stroke="#000" stroke-width="0.35" >R</text>
<text x="512" y="48.5" font-size="9" font-weight="bold" font-style="normal" font-family="Liberation Serif" text-anchor="start" fill="#000" stroke="#000" stroke-width="0.15" >20Ω</text>
<text x="494" y="56.5" font-size="10.5" font-weight="normal" font-style="normal" font-family="Liberation Serif" text-anchor="start" fill="#000" stroke="#000" stroke-width="0.35" >C2</text>
<text x="495" y="67.5" font-size="9.5" font-weight="normal" font-style="normal" font-family="Liberation Serif" text-anchor="start" fill="#000" stroke="#000" stroke-width="0.35" >10μF</text>
<text x="523.3" y="60" font-size="11" font-weight="normal" font-style="normal" font-family="Liberation Serif" fill="#000" stroke="#000" stroke-width="0.35">C<tspan font-size="10.5" font-weight="bold" font-style="normal" dy="1.6">18</tspan></text>
<text x="524" y="69" font-size="9.5" font-weight="bold" font-style="normal" font-family="Liberation Serif" text-anchor="start" fill="#000" stroke="#000" stroke-width="0.15" >100</text>
<text x="529" y="79" font-size="9.5" font-weight="normal" font-style="normal" font-family="Liberation Serif" text-anchor="start" fill="#000" stroke="#000" stroke-width="0.35" >μF</text>
<text x="201.7" y="275.5" font-size="9.5" font-weight="bold" font-style="normal" font-family="Liberation Serif" text-anchor="start" fill="#000" stroke="#000" stroke-width="0.15" >a</text>
<text x="225" y="275.5" font-size="9.5" font-weight="bold" font-style="normal" font-family="Liberation Serif" text-anchor="start" fill="#000" stroke="#000" stroke-width="0.15" >b</text>
<text x="215.5" y="292.5" font-size="10" font-weight="normal" font-style="normal" font-family="Liberation Serif" fill="#000" stroke="#000" stroke-width="0.35">S<tspan font-size="8" font-weight="bold" font-style="normal" dy="1.5">1</tspan></text>
<text x="413.6" y="298.5" font-size="9.5" font-weight="bold" font-style="normal" font-family="Liberation Serif" text-anchor="start" fill="#000" stroke="#000" stroke-width="0.15" >b</text>
<text x="435.2" y="295.2" font-size="10" font-weight="normal" font-style="normal" font-family="Liberation Serif" fill="#000" stroke="#000" stroke-width="0.35">S<tspan font-size="8.5" font-weight="normal" font-style="normal" dy="1.3">2</tspan></text>
<text x="451" y="299.3" font-size="9.5" font-weight="bold" font-style="normal" font-family="Liberation Serif" text-anchor="start" fill="#000" stroke="#000" stroke-width="0.15" >a</text>
<text x="441" y="328.7" font-size="10" font-weight="bold" font-style="normal" font-family="Liberation Serif" text-anchor="start" fill="#000" stroke="#000" stroke-width="0.15" >9V</text>
<text x="427.5" y="337.5" font-size="8.5" font-weight="normal" font-style="normal" font-family="Liberation Serif" text-anchor="start" fill="#000" stroke="#000" stroke-width="0.35" >Vcc</text>
<text x="307.8" y="300.2" font-size="9" font-weight="bold" font-style="normal" font-family="Liberation Serif" text-anchor="start" fill="#000" stroke="#000" stroke-width="0.15" >2</text>
<text x="365" y="300.2" font-size="9" font-weight="bold" font-style="normal" font-family="Liberation Serif" text-anchor="start" fill="#000" stroke="#000" stroke-width="0.15" >1</text>
<text x="329.5" y="302" font-size="11" font-weight="bold" font-style="normal" font-family="Liberation Serif" text-anchor="start" fill="#000" stroke="#000" stroke-width="0.15" >IC3</text>
<text x="325" y="312.5" font-size="11" font-weight="bold" font-style="normal" font-family="Liberation Serif" text-anchor="start" fill="#000" stroke="#000" stroke-width="0.15" >L7806</text>
<text x="342.5" y="328.5" font-size="8" font-weight="bold" font-style="normal" font-family="Liberation Serif" text-anchor="start" fill="#000" stroke="#000" stroke-width="0.15" >3</text>
<text x="273.7" y="351" font-size="10.5" font-weight="normal" font-style="italic" font-family="Liberation Serif" fill="#000" stroke="#000" stroke-width="0.35">C<tspan font-size="10" font-weight="bold" font-style="normal" dy="2.5">28</tspan></text>
<text x="268.7" y="363.7" font-size="9.8" font-weight="bold" font-style="normal" font-family="Liberation Serif" text-anchor="start" fill="#000" stroke="#000" stroke-width="0.15" letter-spacing="0.2">1000</text>
<text x="277.5" y="373.7" font-size="10" font-weight="normal" font-style="normal" font-family="Liberation Serif" text-anchor="start" fill="#000" stroke="#000" stroke-width="0.35" >pF</text>
<text x="308.7" y="351" font-size="10.5" font-weight="normal" font-style="italic" font-family="Liberation Serif" fill="#000" stroke="#000" stroke-width="0.35">C<tspan font-size="10" font-weight="bold" font-style="normal" dy="2.5">29</tspan></text>
<text x="306.2" y="364.5" font-size="9.8" font-weight="bold" font-style="normal" font-family="Liberation Serif" text-anchor="start" fill="#000" stroke="#000" stroke-width="0.15" letter-spacing="0.3">100μF</text>
<text x="394.3" y="346.3" font-size="9" font-weight="normal" font-style="normal" font-family="Liberation Serif" fill="#000" stroke="#000" stroke-width="0.35">C<tspan font-size="10.5" font-weight="bold" font-style="normal" dy="4.3">30</tspan></text>
<text x="392.5" y="360" font-size="9.8" font-weight="bold" font-style="normal" font-family="Liberation Serif" text-anchor="start" fill="#000" stroke="#000" stroke-width="0.15" letter-spacing="0.3">100μF</text>
<text x="114" y="316.5" font-size="10.5" font-weight="normal" font-style="italic" font-family="Liberation Serif" fill="#000" stroke="#000" stroke-width="0.35">R<tspan font-size="10" font-weight="normal" font-style="normal" dy="1">9</tspan></text>
<text x="114" y="328" font-size="9.5" font-weight="normal" font-style="normal" font-family="Liberation Serif" text-anchor="start" fill="#000" stroke="#000" stroke-width="0.35" >10</text>
<text x="120" y="335" font-size="8.5" font-weight="bold" font-style="normal" font-family="Liberation Serif" text-anchor="start" fill="#000" stroke="#000" stroke-width="0.15" >kΩ</text>
<text x="141" y="316.5" font-size="10.5" font-weight="normal" font-style="italic" font-family="Liberation Serif" fill="#000" stroke="#000" stroke-width="0.35">R<tspan font-size="10" font-weight="normal" font-style="normal" dy="1">8</tspan></text>
<text x="141" y="328" font-size="9.5" font-weight="normal" font-style="normal" font-family="Liberation Serif" text-anchor="start" fill="#000" stroke="#000" stroke-width="0.35" >10</text>
<text x="141" y="335" font-size="8.5" font-weight="bold" font-style="normal" font-family="Liberation Serif" text-anchor="start" fill="#000" stroke="#000" stroke-width="0.15" >kΩ</text>
<text x="166" y="317" font-size="10.5" font-weight="normal" font-style="italic" font-family="Liberation Serif" fill="#000" stroke="#000" stroke-width="0.35">C<tspan font-size="10.5" font-weight="bold" font-style="normal" dy="1">27</tspan></text>
<text x="168.7" y="325.3" font-size="10" font-weight="bold" font-style="normal" font-family="Liberation Serif" text-anchor="start" fill="#000" stroke="#000" stroke-width="0.15" >47</text>
<text x="171" y="335" font-size="10" font-weight="normal" font-style="normal" font-family="Liberation Serif" text-anchor="start" fill="#000" stroke="#000" stroke-width="0.35" >pF</text>
<text x="192.5" y="327" font-size="10" font-weight="normal" font-style="normal" font-family="Liberation Serif" fill="#000" stroke="#000" stroke-width="0.35">L<tspan font-size="9" font-weight="bold" font-style="normal" dy="0">3</tspan></text>
<text x="116" y="344.5" font-size="10.5" font-weight="normal" font-style="normal" font-family="Liberation Serif" fill="#000" stroke="#000" stroke-width="0.35">C<tspan font-size="9.5" font-weight="normal" font-style="normal" dy="1.5">23</tspan></text>
<text x="113.5" y="368.7" font-size="9" font-weight="bold" font-style="normal" font-family="Liberation Serif" text-anchor="start" fill="#000" stroke="#000" stroke-width="0.15" >.001</text>
<text x="122.5" y="376.5" font-size="9" font-weight="normal" font-style="normal" font-family="Liberation Serif" text-anchor="start" fill="#000" stroke="#000" stroke-width="0.35" >μF</text>
<text x="113.5" y="386.3" font-size="15" font-weight="normal" font-style="normal" font-family="Liberation Serif" fill="#000" stroke="#000" stroke-width="0.35">T<tspan font-size="8" font-weight="normal" font-style="normal" dy="0">1</tspan></text>
<text x="168.3" y="357.3" font-size="15" font-weight="normal" font-style="normal" font-family="Liberation Serif" fill="#000" stroke="#000" stroke-width="0.35">T<tspan font-size="10" font-weight="bold" font-style="normal" dy="1">2</tspan></text>
<text x="193.5" y="355.5" font-size="10.5" font-weight="normal" font-style="italic" font-family="Liberation Serif" fill="#000" stroke="#000" stroke-width="0.35">C<tspan font-size="10.5" font-weight="normal" font-style="normal" dy="2">26</tspan></text>
<text x="195" y="366" font-size="10" font-weight="normal" font-style="normal" font-family="Liberation Serif" text-anchor="start" fill="#000" stroke="#000" stroke-width="0.35" >18pF</text>
<text x="192.3" y="388.5" font-size="10.5" font-weight="normal" font-style="normal" font-family="Liberation Serif" fill="#000" stroke="#000" stroke-width="0.35">L<tspan font-size="10" font-weight="normal" font-style="normal" dy="3">4</tspan></text>
<text x="137.5" y="387.5" font-size="10" font-weight="normal" font-style="normal" font-family="Liberation Serif" fill="#000" stroke="#000" stroke-width="0.35">C<tspan font-size="9" font-weight="bold" font-style="normal" dy="0">24</tspan></text>
<text x="136.5" y="403" font-size="9.8" font-weight="bold" font-style="normal" font-family="Liberation Serif" text-anchor="start" fill="#000" stroke="#000" stroke-width="0.15" >1000</text>
<text x="143.5" y="412.5" font-size="10" font-weight="normal" font-style="normal" font-family="Liberation Serif" text-anchor="start" fill="#000" stroke="#000" stroke-width="0.35" >pF</text>
<text x="166" y="392.5" font-size="10.5" font-weight="normal" font-style="italic" font-family="Liberation Serif" fill="#000" stroke="#000" stroke-width="0.35">C<tspan font-size="10.5" font-weight="normal" font-style="normal" dy="2.5">25</tspan></text>
<text x="168.5" y="403.7" font-size="9" font-weight="bold" font-style="normal" font-family="Liberation Serif" text-anchor="start" fill="#000" stroke="#000" stroke-width="0.15" >68</text>
<text x="171" y="412.5" font-size="10" font-weight="normal" font-style="normal" font-family="Liberation Serif" text-anchor="start" fill="#000" stroke="#000" stroke-width="0.35" >pF</text>
<text x="53.5" y="358" font-size="10.5" font-weight="normal" font-style="italic" font-family="Liberation Serif" fill="#000" stroke="#000" stroke-width="0.35">R<tspan font-size="10.5" font-weight="bold" font-style="normal" dy="1">6</tspan></text>
<text x="53.5" y="370" font-size="9" font-weight="bold" font-style="normal" font-family="Liberation Serif" text-anchor="start" fill="#000" stroke="#000" stroke-width="0.15" >10kΩ</text>
<text x="88.5" y="366" font-size="10" font-weight="normal" font-style="italic" font-family="Liberation Serif" fill="#000" stroke="#000" stroke-width="0.35">R<tspan font-size="8" font-weight="bold" font-style="normal" dy="0">7</tspan></text>
<text x="87.5" y="376.3" font-size="9" font-weight="normal" font-style="normal" font-family="Liberation Serif" text-anchor="start" fill="#000" stroke="#000" stroke-width="0.35" >15M</text>
<text x="90" y="383.7" font-size="8" font-weight="bold" font-style="normal" font-family="Liberation Serif" text-anchor="start" fill="#000" stroke="#000" stroke-width="0.15" >Ω</text>
<text x="59.5" y="378.7" font-size="10" font-weight="normal" font-style="normal" font-family="Liberation Serif" fill="#000" stroke="#000" stroke-width="0.35">C<tspan font-size="9" font-weight="bold" font-style="normal" dy="0">22</tspan></text>
<text x="62" y="403.7" font-size="9.5" font-weight="bold" font-style="normal" font-family="Liberation Serif" text-anchor="start" fill="#000" stroke="#000" stroke-width="0.15" >10μF</text>
<text x="40" y="436" font-size="9" font-weight="bold" font-style="normal" font-family="Liberation Serif" text-anchor="start" fill="#000" stroke="#000" stroke-width="0.15" >MIC</text>
<text x="429" y="434" font-size="19.3" font-weight="normal" font-style="normal" font-family="Liberation Sans" text-anchor="start" fill="#cddfbf" stroke="#cddfbf" stroke-width="0" >www.cntronics.com</text></svg>
</body></html>
